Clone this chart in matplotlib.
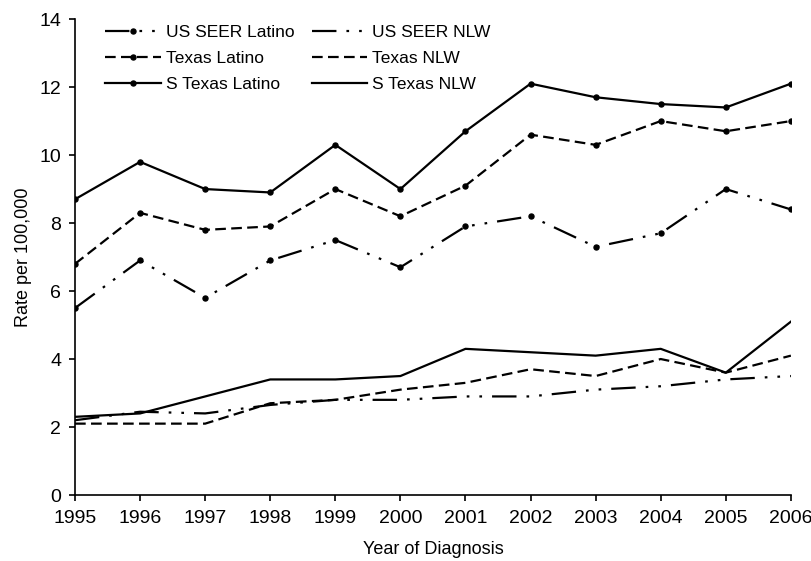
import matplotlib
matplotlib.use('Agg')
import matplotlib.pyplot as plt

plt.rcParams['font.family'] = ['Liberation Sans', 'DejaVu Sans']

years = list(range(1995, 2007))

# Latino rates
us_seer_latino = [5.5, 6.9, 5.8, 6.9, 7.5, 6.7, 7.9, 8.2, 7.3, 7.7, 9.0, 8.4]
texas_latino = [6.8, 8.3, 7.8, 7.9, 9.0, 8.2, 9.1, 10.6, 10.3, 11.0, 10.7, 11.0]
s_texas_latino = [8.7, 9.8, 9.0, 8.9, 10.3, 9.0, 10.7, 12.1, 11.7, 11.5, 11.4, 12.1]

# non-Latino white rates
us_seer_nlw = [2.2, 2.45, 2.4, 2.65, 2.8, 2.8, 2.9, 2.9, 3.1, 3.2, 3.4, 3.5]
texas_nlw = [2.1, 2.1, 2.1, 2.7, 2.8, 3.1, 3.3, 3.7, 3.5, 4.0, 3.6, 4.1]
s_texas_nlw = [2.3, 2.4, 2.9, 3.4, 3.4, 3.5, 4.3, 4.2, 4.1, 4.3, 3.6, 5.1]

dashdotdot = (0, (11, 4.5, 1.2, 4.5, 1.2, 4.5))
dashed = (0, (4.8, 2.4))
lw = 1.6
ms = 3.6

fig = plt.figure(figsize=(8.12, 5.61), dpi=100)
ax = fig.add_axes([0.0924, 0.1176, 0.8816, 0.8484])

h1, = ax.plot(years, us_seer_latino, color='black', lw=lw, ls=dashdotdot,
              marker='o', ms=ms, label='US SEER Latino')
h2, = ax.plot(years, texas_latino, color='black', lw=lw, ls=dashed,
              marker='o', ms=ms, label='Texas Latino')
h3, = ax.plot(years, s_texas_latino, color='black', lw=lw, ls='-',
              marker='o', ms=ms, label='S Texas Latino')
h4, = ax.plot(years, us_seer_nlw, color='black', lw=lw, ls=dashdotdot,
              label='US SEER NLW')
h5, = ax.plot(years, texas_nlw, color='black', lw=lw, ls=dashed,
              label='Texas NLW')
h6, = ax.plot(years, s_texas_nlw, color='black', lw=lw, ls='-',
              label='S Texas NLW')

ax.set_xlim(1995, 2006)
ax.set_ylim(0, 14)
ax.set_xticks(years)
ax.set_yticks(range(0, 15, 2))
ax.tick_params(labelsize=14, direction='out', length=4, width=1.2)
ax.tick_params(axis='x', pad=7)
ax.tick_params(axis='y', pad=6)
ax.spines['top'].set_visible(False)
ax.spines['right'].set_visible(False)
ax.spines['left'].set_linewidth(1.2)
ax.spines['bottom'].set_linewidth(1.2)

ax.set_xlabel('Year of Diagnosis', fontsize=13, labelpad=10)
ax.set_ylabel('Rate per 100,000', fontsize=13, labelpad=5)

ax.legend(handles=[h1, h2, h3, h4, h5, h6], ncol=2, frameon=False,
          fontsize=12.5, handlelength=3.2, handletextpad=0.3,
          labelspacing=0.62, columnspacing=1.0,
          loc='upper left', bbox_to_anchor=(0.02, 1.02))

fig.savefig('out.png', dpi=100)
